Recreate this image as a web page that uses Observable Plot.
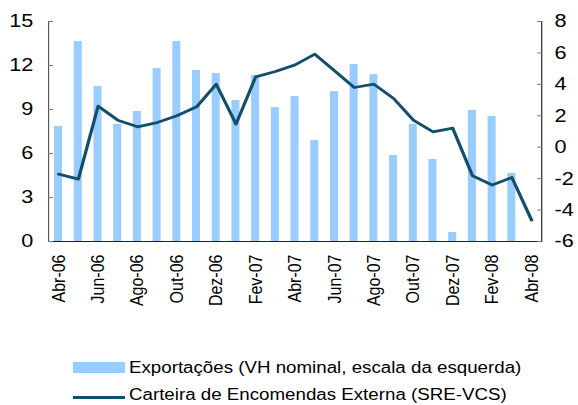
<!DOCTYPE html>
<html><head><meta charset="utf-8">
<script src="https://cdn.jsdelivr.net/npm/d3@7"></script>
<script src="https://cdn.jsdelivr.net/npm/@observablehq/plot@0.6"></script>
<style>
body{margin:0;background:#fff;}
#wrap{position:relative;width:578px;height:405px;overflow:hidden;font-family:"Liberation Sans",Arial,sans-serif;color:#000;}
#chart{position:absolute;left:0;top:0;transform-origin:0 0;transform:scaleX(1.17);}
#chart svg{display:block;}
.sw{position:absolute;}
.lt{position:absolute;font-size:16px;line-height:16px;white-space:nowrap;transform-origin:0 50%;transform:scaleX(1.17);}
</style></head><body><div id="wrap"><div id="chart"></div><div id="legend"></div></div>
<script>
const months = ["Abr-06","Mai-06","Jun-06","Jul-06","Ago-06","Set-06","Out-06","Nov-06","Dez-06","Jan-07","Fev-07","Mar-07","Abr-07","Mai-07","Jun-07","Jul-07","Ago-07","Set-07","Out-07","Nov-07","Dez-07","Jan-08","Fev-08","Mar-08","Abr-08"];
const exportacoes = [7.84,13.63,10.57,7.98,8.86,11.79,13.63,11.66,11.45,9.61,11.32,9.13,9.88,6.88,10.22,12.07,11.38,5.86,7.98,5.59,0.61,8.93,8.52,4.64,null];
const carteira = [-1.71,-2.03,2.61,1.72,1.30,1.57,2.0,2.57,4.01,1.47,4.48,4.82,5.24,5.92,4.86,3.8,4.01,3.1,1.72,0.98,1.21,-1.82,-2.41,-1.93,-4.64];
const leftTicks = [0,3,6,9,12,15];
const rightTicks = [-6,-4,-2,0,2,4,6,8];
const xTickLabels = months.filter((d, i) => i % 2 === 0);
const seriesNames = ["Exportações (VH nominal, escala da esquerda)", "Carteira de Encomendas Externa (SRE-VCS)"];

const barColor = "#99CCFF", lineColor = "#134f6c";
const rMin = -6, rMax = 8, lMax = 15;
const toLeft = v => (v - rMin) * lMax / (rMax - rMin);
const fromLeft = v => Math.round(v * (rMax - rMin) / lMax + rMin);

const rows = months.map((m, i) => ({month: m, exp: exportacoes[i], car: carteira[i]}));

// The reference is horizontally stretched (~1.17x); the SVG is drawn narrower and stretched by CSS.
const chart = Plot.plot({
  width: 494, height: 340,
  marginLeft: 41, marginRight: 31.5, marginTop: 21, marginBottom: 99,
  style: {fontFamily: '"Liberation Sans", Arial, sans-serif', fontSize: "18.5px", color: "#000", background: "#fff", overflow: "visible"},
  x: {type: "band", domain: months, paddingInner: 0.594, paddingOuter: 0.31, round: false, label: null},
  y: {domain: [0, lMax], label: null},
  marks: [
    Plot.barY(rows.filter(d => d.exp != null), {x: "month", y: "exp", fill: barColor}),
    Plot.line(rows, {x: "month", y: d => toLeft(d.car), stroke: lineColor, strokeWidth: 2.8}),
    Plot.ruleY([0], {stroke: "#222", strokeWidth: 1}),
    Plot.frame({anchor: "left", stroke: "#555"}),
    Plot.frame({anchor: "right", stroke: "#222"}),
    Plot.axisY({anchor: "left", ticks: leftTicks, tickSize: 0, tickPadding: 13, label: null, fontSize: 18.5}),
    Plot.axisY({anchor: "left", ticks: leftTicks, tickSize: 4.3, dx: 4.3, text: null, stroke: "#777"}),
    Plot.axisY({anchor: "right", ticks: rightTicks.map(toLeft), tickFormat: d => String(fromLeft(d)), tickSize: 0, tickPadding: 11, label: null, fontSize: 18.5}),
    Plot.axisY({anchor: "right", ticks: rightTicks.map(toLeft), tickSize: 4.3, dx: -4.3, text: null, stroke: "#777"}),
    Plot.axisX({ticks: xTickLabels, tickRotate: -90, tickSize: 0, tickPadding: 13, label: null, fontSize: 16})
  ]
});
document.getElementById("chart").appendChild(chart);

const legend = document.getElementById("legend");
legend.innerHTML = `
  <div class="sw" style="left:73px;top:362px;width:52px;height:11px;background:${barColor}"></div>
  <div class="lt" style="left:129px;top:360px">${seriesNames[0]}</div>
  <div class="sw" style="left:73px;top:395.5px;width:52px;height:3px;background:${lineColor}"></div>
  <div class="lt" style="left:129px;top:386.5px">${seriesNames[1]}</div>`;
</script></body></html>
